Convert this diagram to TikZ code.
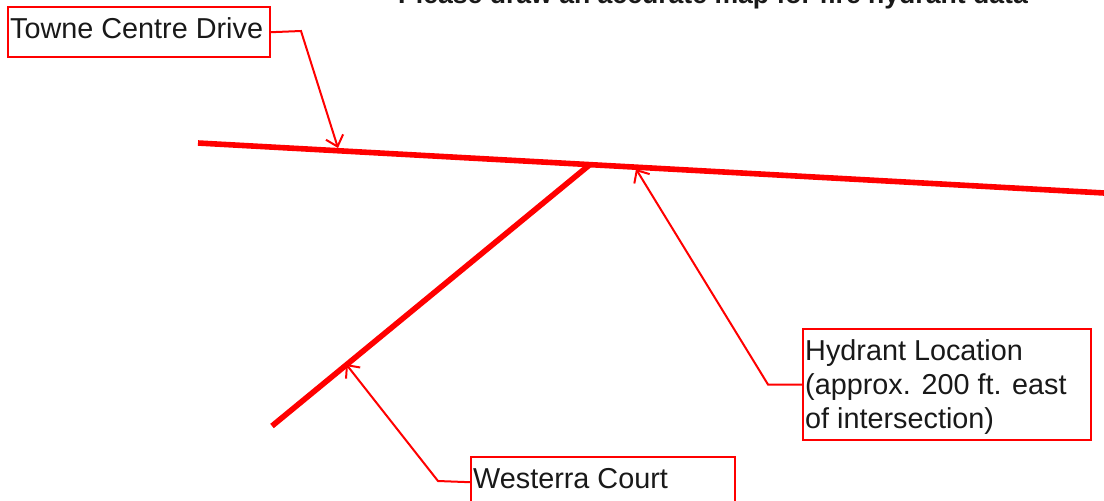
\documentclass[tikz,border=0pt]{standalone}
\usepackage{fontspec}
\setmainfont{Liberation Sans}
\usetikzlibrary{arrows.meta, positioning}
\usepackage{xcolor}

\begin{document}
\begin{tikzpicture}[x=0.5pt, y=-0.5pt,
    road/.style={draw=red, line width=2.8pt},
    labelbox/.style={rectangle, draw=red, line width=1.2pt, anchor=north west, align=flush left, inner xsep=1pt, inner ysep=2.5pt, font=\fontsize{14.4}{17}\selectfont, text=black!90},
    callout/.style={draw=red, line width=1pt, -{Straight Barb[length=5pt, width=9pt]}}]
    \useasboundingbox (0,0) rectangle (1104,500);

    % Roads
    \coordinate (driveW) at (198,143);
    \coordinate (driveE) at (1108,193.2);
    \coordinate (junction) at (590,164.5);
    \coordinate (courtS) at (272,426);
    \draw[road] (driveW) -- (driveE);
    \draw[road] (courtS) -- (junction);

    % Nodes
    \node (title) [anchor=base, font=\bfseries\fontsize{13.3}{16}\selectfont, text=black!90] at (713,3) {Please draw an accurate map for fire hydrant data};
    \node (drive) [labelbox, text width=128.75pt, text height=13pt, text depth=7pt] at (7,6) {Towne Centre Drive};
    \node (court) [labelbox, text width=129.75pt, text height=13pt, text depth=7pt] at (470,456) {Westerra Court};
    \node (hydrant) [labelbox, text width=141.8pt, text height=12.5pt, text depth=37pt, inner ysep=2.9pt] at (802,328) {Hydrant Location\\(approx. 200 ft. east\\of intersection)};

    % Arrows
    \coordinate (driveBend) at (301,31);
    \coordinate (driveTip) at (338,148);
    \coordinate (courtBend) at (438,481);
    \coordinate (courtTip) at (346,364);
    \coordinate (hydrantBend) at (768,384.5);
    \coordinate (hydrantTip) at (636,169);
    \draw[callout] (drive.east) -- (driveBend) -- (driveTip);
    \draw[callout] (court.west) -- (courtBend) -- (courtTip);
    \draw[callout] (hydrant.west) -- (hydrantBend) -- (hydrantTip);
\end{tikzpicture}
\end{document}
